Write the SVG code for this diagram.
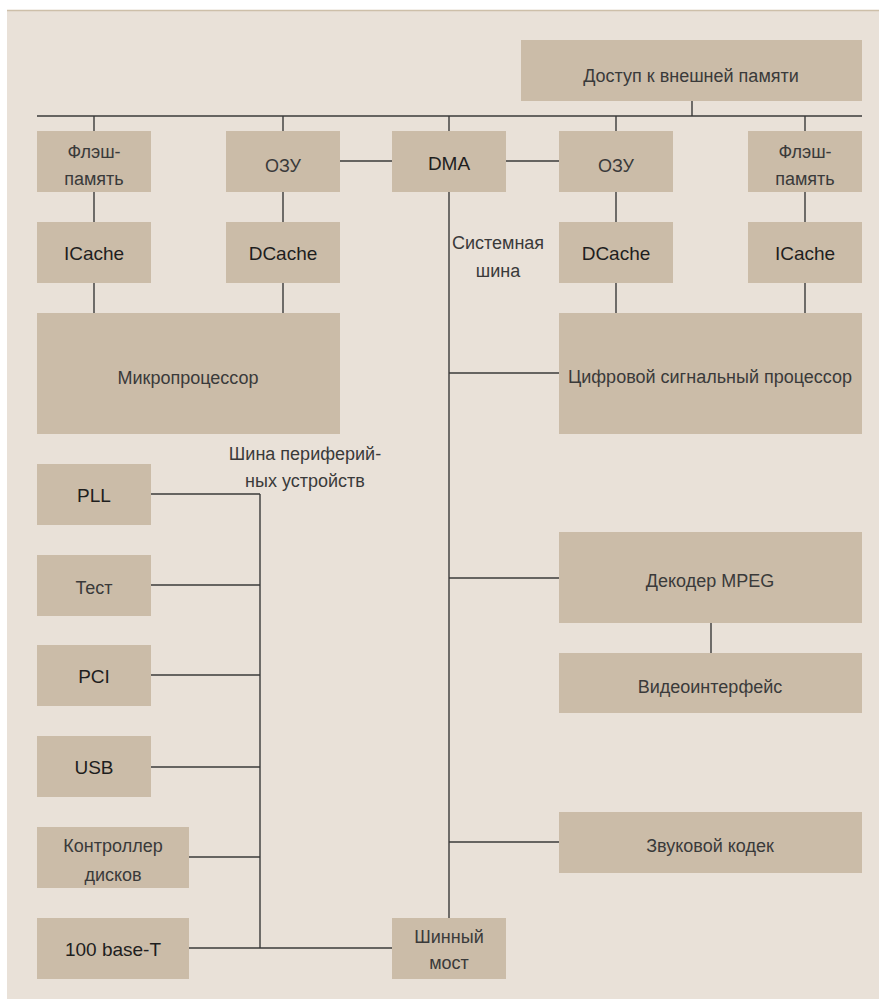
<svg xmlns="http://www.w3.org/2000/svg" width="879" height="999" viewBox="0 0 879 999">
<style>
.bx{fill:#cbbca8}
.lat{font-family:"Liberation Sans",Arial,sans-serif;font-size:19px;fill:#1e1e1e;text-anchor:middle}
.cyr{font-family:"Liberation Sans",Arial,sans-serif;font-size:18px;fill:#3a3a3a;text-anchor:middle}
.ln{stroke:#3a3a3a;stroke-width:1.4;fill:none}
</style>
<rect x="0" y="0" width="879" height="999" fill="#ffffff"/>
<rect x="7" y="10" width="872" height="989" fill="#e9e1d8"/>
<line x1="7" y1="10.5" x2="879" y2="10.5" stroke="#cdbfa9" stroke-width="1.5"/>
<g id="connectors" class="ln">
<line x1="37" y1="116" x2="862" y2="116"/>
<line x1="692" y1="101" x2="692" y2="116"/>
<line x1="94" y1="116" x2="94" y2="131"/>
<line x1="283" y1="116" x2="283" y2="131"/>
<line x1="449" y1="116" x2="449" y2="131"/>
<line x1="616" y1="116" x2="616" y2="131"/>
<line x1="805" y1="116" x2="805" y2="131"/>
<line x1="340" y1="161" x2="392" y2="161"/>
<line x1="506" y1="161" x2="559" y2="161"/>
<line x1="94" y1="192" x2="94" y2="222"/>
<line x1="283" y1="192" x2="283" y2="222"/>
<line x1="616" y1="192" x2="616" y2="222"/>
<line x1="805" y1="192" x2="805" y2="222"/>
<line x1="94" y1="283" x2="94" y2="313"/>
<line x1="283" y1="283" x2="283" y2="313"/>
<line x1="616" y1="283" x2="616" y2="313"/>
<line x1="805" y1="283" x2="805" y2="313"/>
<line x1="449" y1="192" x2="449" y2="918"/>
<line x1="449" y1="373" x2="559" y2="373"/>
<line x1="449" y1="578" x2="559" y2="578"/>
<line x1="449" y1="842" x2="559" y2="842"/>
<line x1="711" y1="623" x2="711" y2="653"/>
<line x1="260" y1="494" x2="260" y2="948"/>
<line x1="151" y1="494" x2="260" y2="494"/>
<line x1="151" y1="585" x2="260" y2="585"/>
<line x1="151" y1="675" x2="260" y2="675"/>
<line x1="151" y1="767" x2="260" y2="767"/>
<line x1="189" y1="857" x2="260" y2="857"/>
<line x1="189" y1="948" x2="392" y2="948"/>
</g>
<g id="ext-mem"><rect class="bx" x="521" y="40" width="341" height="61"/><text class="cyr" x="691" y="82">Доступ к внешней памяти</text></g>
<g id="flash-l"><rect class="bx" x="37" y="131" width="114" height="61"/><text class="cyr" x="94" y="158">Флэш-</text><text class="cyr" x="94" y="185">память</text></g>
<g id="ram-l"><rect class="bx" x="226" y="131" width="114" height="61"/><text class="cyr" x="283" y="172">ОЗУ</text></g>
<g id="dma"><rect class="bx" x="392" y="131" width="114" height="61"/><text class="lat" x="449" y="170">DMA</text></g>
<g id="ram-r"><rect class="bx" x="559" y="131" width="114" height="61"/><text class="cyr" x="616" y="172">ОЗУ</text></g>
<g id="flash-r"><rect class="bx" x="748" y="131" width="114" height="61"/><text class="cyr" x="805" y="158">Флэш-</text><text class="cyr" x="805" y="185">память</text></g>
<g id="icache-l"><rect class="bx" x="37" y="222" width="114" height="61"/><text class="lat" x="94" y="260">ICache</text></g>
<g id="dcache-l"><rect class="bx" x="226" y="222" width="114" height="61"/><text class="lat" x="283" y="260">DCache</text></g>
<g id="dcache-r"><rect class="bx" x="559" y="222" width="114" height="61"/><text class="lat" x="616" y="260">DCache</text></g>
<g id="icache-r"><rect class="bx" x="748" y="222" width="114" height="61"/><text class="lat" x="805" y="260">ICache</text></g>
<g id="cpu"><rect class="bx" x="37" y="313" width="303" height="121"/><text class="cyr" x="188" y="384">Микропроцессор</text></g>
<g id="dsp"><rect class="bx" x="559" y="313" width="303" height="121"/><text class="cyr" x="710" y="383">Цифровой сигнальный процессор</text></g>
<g id="sysbus-label"><text class="cyr" x="498" y="249">Системная</text><text class="cyr" x="498" y="277">шина</text></g>
<g id="perbus-label"><text class="cyr" x="305" y="460">Шина периферий-</text><text class="cyr" x="305" y="487">ных устройств</text></g>
<g id="pll"><rect class="bx" x="37" y="464" width="114" height="61"/><text class="lat" x="94" y="502">PLL</text></g>
<g id="test"><rect class="bx" x="37" y="555" width="114" height="61"/><text class="cyr" x="94" y="594">Тест</text></g>
<g id="pci"><rect class="bx" x="37" y="645" width="114" height="61"/><text class="lat" x="94" y="683">PCI</text></g>
<g id="usb"><rect class="bx" x="37" y="736" width="114" height="61"/><text class="lat" x="94" y="774">USB</text></g>
<g id="disk"><rect class="bx" x="37" y="827" width="152" height="61"/><text class="cyr" x="113" y="852">Контроллер</text><text class="cyr" x="113" y="881">дисков</text></g>
<g id="eth"><rect class="bx" x="37" y="918" width="152" height="61"/><text class="lat" x="113" y="956">100 base-T</text></g>
<g id="bridge"><rect class="bx" x="392" y="918" width="114" height="61"/><text class="cyr" x="449" y="943">Шинный</text><text class="cyr" x="449" y="969">мост</text></g>
<g id="mpeg"><rect class="bx" x="559" y="532" width="303" height="91"/><text class="cyr" x="710" y="587">Декодер MPEG</text></g>
<g id="video"><rect class="bx" x="559" y="653" width="303" height="60"/><text class="cyr" x="710" y="693">Видеоинтерфейс</text></g>
<g id="audio"><rect class="bx" x="559" y="812" width="303" height="61"/><text class="cyr" x="710" y="852">Звуковой кодек</text></g>
</svg>
